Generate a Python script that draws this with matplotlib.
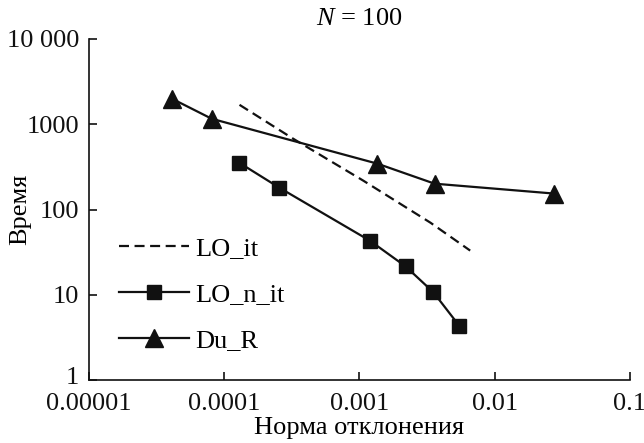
import numpy as np
import matplotlib
matplotlib.use('Agg')
import matplotlib.pyplot as plt
from matplotlib.transforms import ScaledTranslation

# values (log-log)
lo_it_x = [1.3e-4, 3.24e-4, 1.07e-3, 3.36e-3, 6.6e-3]
lo_it_y = [1690, 677, 218, 70, 33]

lo_n_it_x = [1.29e-4, 2.55e-4, 1.2e-3, 2.2e-3, 3.53e-3, 5.5e-3]
lo_n_it_y = [355, 181, 43, 21.5, 10.7, 4.3]

du_r_x = [4.1e-5, 8.1e-5, 1.36e-3, 3.6e-3, 0.0274]
du_r_y = [2000, 1160, 345, 201, 154]

x_ticks = [1e-5, 1e-4, 1e-3, 1e-2, 1e-1]
x_tick_labels = ['0.00001', '0.0001', '0.001', '0.01', '0.1']
y_ticks = [1, 10, 100, 1000, 10000]
y_tick_labels = ['1', '10', '100', '1000', '10 000']

plt.rcParams['font.family'] = ['Liberation Serif', 'DejaVu Serif']
plt.rcParams['mathtext.fontset'] = 'custom'
plt.rcParams['mathtext.it'] = 'Liberation Serif:italic'
plt.rcParams['mathtext.rm'] = 'Liberation Serif'

fs = 19
fig = plt.figure(figsize=(6.44, 4.43), dpi=100)
ax = fig.add_axes([0.138, 0.142, 0.840, 0.770])

ax.plot(lo_it_x, lo_it_y, color='#111111', lw=1.6, ls=(0, (4.5, 2.5)), label='LO_it')
ax.plot(lo_n_it_x, lo_n_it_y, color='#111111', lw=1.6, marker='s', ms=10, label='LO_n_it')
ax.plot(du_r_x, du_r_y, color='#111111', lw=1.6, marker='^', ms=13, label='Du_R')

ax.set_xscale('log')
ax.set_yscale('log')
ax.set_xlim(1e-5, 1e-1)
ax.set_ylim(1, 10000)
ax.set_xticks(x_ticks)
ax.set_xticklabels(x_tick_labels)
ax.set_yticks(y_ticks)
ax.set_yticklabels(y_tick_labels)
ax.minorticks_off()
ax.tick_params(direction='in', length=6, width=1.2, labelsize=fs, colors='#111111')
ax.tick_params(axis='x', pad=9)
ax.tick_params(axis='y', pad=7)

# lift the "1" label a little off the x axis labels
lab1 = ax.get_yticklabels()[0]
lab1.set_transform(lab1.get_transform() + ScaledTranslation(0, 5 / 100, fig.dpi_scale_trans))

for s in ['top', 'right']:
    ax.spines[s].set_visible(False)
for s in ['left', 'bottom']:
    ax.spines[s].set_linewidth(1.2)
    ax.spines[s].set_color('#111111')

ax.set_title('$N$ = 100', fontsize=fs, pad=10)
ax.set_xlabel('Норма отклонения', fontsize=fs, labelpad=2)
ax.set_ylabel('Время', fontsize=fs)
ax.yaxis.set_label_coords(-0.106, 0.5)

ax.legend(loc='lower left', bbox_to_anchor=(0.036, 0.051), frameon=False, fontsize=fs,
          handlelength=2.65, labelspacing=0.85, handletextpad=0.25, borderaxespad=0)

fig.savefig('out.png', dpi=100)
